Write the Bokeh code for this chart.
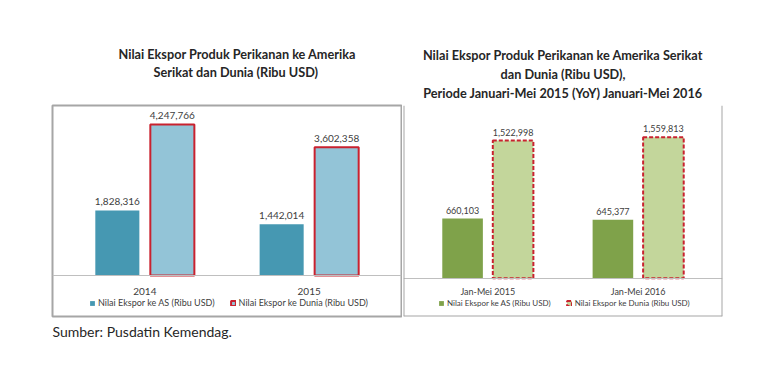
from bokeh.plotting import figure
from bokeh.models import Range1d, FactorRange, ColumnDataSource, Span, Title
from bokeh.transform import dodge
from bokeh.layouts import row
from bokeh.embed import file_html
from bokeh.resources import INLINE
from bokeh.core.properties import value

# ---- data ----
years = ["2014", "2015"]
as_vals = [1828316, 1442014]
dunia_vals = [4247766, 3602358]

periods = ["Jan-Mei 2015", "Jan-Mei 2016"]
as_vals2 = [660103, 645377]
dunia_vals2 = [1522998, 1559813]

legend_as = "Nilai Ekspor ke AS (Ribu USD)"
legend_dunia = "Nilai Ekspor ke Dunia (Ribu USD)"
title1 = ["Nilai Ekspor Produk Perikanan ke Amerika", "Serikat dan Dunia (Ribu USD)"]
title2 = ["Nilai Ekspor Produk Perikanan ke Amerika Serikat", "dan Dunia (Ribu USD),",
          "Periode Januari-Mei 2015 (YoY) Januari-Mei 2016"]
source_text = "Sumber: Pusdatin Kemendag."

FONT = "Lato"
TXT = "#404040"
BOX = "#a6a6a6"
RED = "#c9222f"
TFS = "12.7px"


def style(p, fs, lfs, spacing):
    p.xgrid.grid_line_color = None
    p.ygrid.grid_line_color = None
    p.xaxis.fixed_location = 0
    p.xaxis.axis_line_color = "#bfbfbf"
    p.xaxis.major_tick_line_color = None
    p.xaxis.minor_tick_line_color = None
    p.xaxis.major_tick_out = 0
    p.xaxis.major_tick_in = 0
    p.xaxis.major_label_text_font = FONT
    p.xaxis.major_label_text_font_size = fs
    p.xaxis.major_label_text_color = TXT
    p.background_fill_color = "white"
    p.border_fill_color = "white"
    p.legend.orientation = "horizontal"
    p.legend.background_fill_alpha = 0
    p.legend.border_line_color = None
    p.legend.padding = 0
    p.legend.margin = 0
    p.legend.glyph_width = 6
    p.legend.glyph_height = 6
    p.legend.label_height = 10
    p.legend.label_standoff = 3
    p.legend.spacing = spacing
    p.legend.label_text_font = FONT
    p.legend.label_text_font_size = lfs
    p.legend.label_text_color = TXT


def spacer(p, so):
    p.add_layout(Title(text=" ", text_font_size="2px", standoff=so), "above")


def title_line(p, text, align, offset, so=0):
    p.add_layout(Title(text=text, align=align, offset=offset, text_font=FONT, text_font_size=TFS,
                       text_font_style="bold", text_color="#262626", standoff=so), "above")


# ---- left chart ----
pad1 = 0.062
p1 = figure(width=402, height=345,
            x_range=FactorRange(factors=years, range_padding=pad1, range_padding_units="absolute"),
            y_range=Range1d(-1156400, 4779600),
            output_backend="svg", toolbar_location=None, y_axis_location=None,
            min_border_left=52, min_border_right=1, min_border_top=105, min_border_bottom=28)
src1 = ColumnDataSource(dict(cat=years, a=as_vals, d=dunia_vals,
                             al=[f"{v:,}" for v in as_vals], dl=[f"{v:,}" for v in dunia_vals]))
off1, w1 = 0.1674, 0.268
p1.vbar(x=dodge("cat", -off1, range=p1.x_range), top="a", width=w1, source=src1,
        fill_color="#4698b2", line_color=None, legend_label=legend_as)
p1.vbar(x=dodge("cat", off1, range=p1.x_range), top="d", width=w1, source=src1,
        fill_color="#93c4d7", line_color=RED, line_width=2, legend_label=legend_dunia)
for col, lab, o in (("a", "al", -off1), ("d", "dl", off1)):
    p1.text(x=dodge("cat", o, range=p1.x_range), y=col, text=lab, source=src1,
            text_align="center", text_baseline="bottom", y_offset=-5,
            text_font=value(FONT), text_font_size="10px", text_color=TXT)
style(p1, "10px", "9px", 15)
p1.xaxis.major_label_standoff = 13
p1.outline_line_color = BOX
p1.outline_line_width = 2
p1.legend.location = (37, 8)
spacer(p1, 22)
title_line(p1, title1[1], "left", 101)
title_line(p1, title1[0], "left", 66)
p1.add_layout(Title(text=source_text, align="left", offset=0, text_font=FONT, text_font_size="14px",
                    text_font_style="normal", text_color="#262626", standoff=8), "below")

# ---- right chart ----
pad2 = 0.061
p2 = figure(width=330, height=345,
            x_range=FactorRange(factors=periods, range_padding=pad2, range_padding_units="absolute"),
            y_range=Range1d(-423700, 1910400),
            output_backend="svg", toolbar_location=None, y_axis_location=None,
            min_border_left=1, min_border_right=10, min_border_top=105, min_border_bottom=29)
src2 = ColumnDataSource(dict(cat=periods, a=as_vals2, d=dunia_vals2,
                             al=[f"{v:,}" for v in as_vals2], dl=[f"{v:,}" for v in dunia_vals2]))
off2, w2 = 0.168, 0.27
p2.vbar(x=dodge("cat", -off2, range=p2.x_range), top="a", width=w2, source=src2,
        fill_color="#7fa24a", line_color=None, legend_label=legend_as)
p2.vbar(x=dodge("cat", off2, range=p2.x_range), top="d", width=w2, source=src2,
        fill_color="#c3d69b", line_color=RED, line_width=2, line_dash="4 2",
        legend_label=legend_dunia)
for col, lab, o in (("a", "al", -off2), ("d", "dl", off2)):
    p2.text(x=dodge("cat", o, range=p2.x_range), y=col, text=lab, source=src2,
            text_align="center", text_baseline="bottom", y_offset=-5,
            text_font=value(FONT), text_font_size="9px", text_color=TXT)
style(p2, "9px", "8px", 15)
p2.xaxis.major_label_standoff = 8
p2.outline_line_color = None
p2.legend.location = (35, 8)
for loc in (-pad2, len(periods) + pad2):
    p2.add_layout(Span(location=loc, dimension="height", line_color=BOX, line_width=2))
p2.add_layout(Span(location=-423700, dimension="width", line_color=BOX, line_width=2))
spacer(p2, 1)
title_line(p2, title2[2], "center", 0)
title_line(p2, title2[1], "center", 0, so=1)
title_line(p2, title2[0], "center", 0, so=1)

layout = row(p1, p2)
open("out.html", "w").write(file_html(layout, INLINE))
